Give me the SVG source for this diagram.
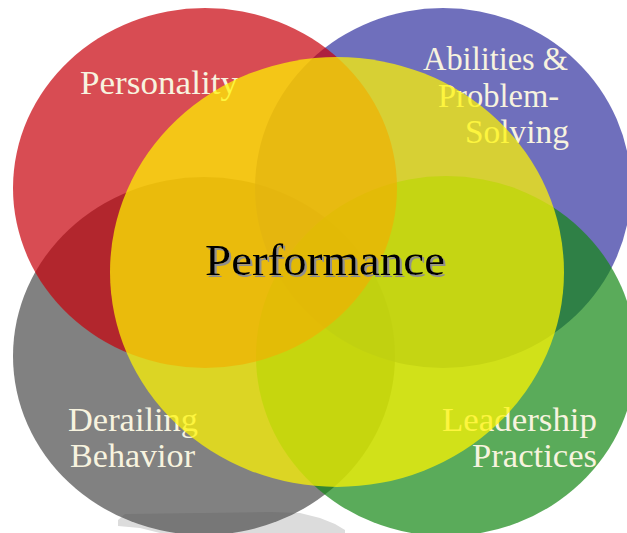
<svg xmlns="http://www.w3.org/2000/svg" width="627" height="533" viewBox="0 0 627 533">
  <style>
    .ring { stroke: none; }
    .label { font-family: "Liberation Serif", "Times New Roman", serif; font-size: 33px; fill: #f7f3df; }
    .core { font-family: "Liberation Serif", "Times New Roman", serif; font-size: 45px; fill: #000000; }
  </style>
  <defs>
    <filter id="drop" x="-10%" y="-30%" width="120%" height="160%">
      <feDropShadow dx="2" dy="2" stdDeviation="0.4" flood-color="#8f8f8f" flood-opacity="1"/>
    </filter>
  </defs>
  <rect width="627" height="533" fill="#ffffff"/>

  <!-- soft floor shadow under the lower-left circle -->
  <polygon points="118,520 125,514 270,512 300,513 320,518 335,524 345,530 345,533 160,533 140,528 118,526" fill="#dcdcdc"/>

  <g id="derailing-behavior">
    <ellipse class="ring" cx="204" cy="356" rx="191" ry="179" fill="#4b4b4b" fill-opacity="0.7"/>
  </g>
  <g id="abilities-problem-solving">
    <ellipse class="ring" cx="443" cy="188" rx="188" ry="180" fill="#3232a0" fill-opacity="0.7"/>
  </g>
  <g id="leadership-practices">
    <ellipse class="ring" cx="446" cy="356" rx="190" ry="180" fill="#148714" fill-opacity="0.7"/>
  </g>
  <g id="personality">
    <ellipse class="ring" cx="205" cy="188" rx="192" ry="180" fill="#c8000a" fill-opacity="0.7"/>
  </g>

  <!-- outer labels sit beneath the translucent centre circle -->
  <g id="labels">
    <text class="label" x="80" y="94" textLength="158" lengthAdjust="spacingAndGlyphs">Personality</text>
    <text class="label" x="423" y="70" textLength="145" lengthAdjust="spacingAndGlyphs">Abilities &amp;</text>
    <text class="label" x="438" y="107" textLength="121" lengthAdjust="spacingAndGlyphs">Problem-</text>
    <text class="label" x="465" y="143" textLength="104" lengthAdjust="spacingAndGlyphs">Solving</text>
    <text class="label" x="68" y="431" textLength="130" lengthAdjust="spacingAndGlyphs">Derailing</text>
    <text class="label" x="70" y="467" textLength="125" lengthAdjust="spacingAndGlyphs">Behavior</text>
    <text class="label" x="442" y="431" textLength="155" lengthAdjust="spacingAndGlyphs">Leadership</text>
    <text class="label" x="472" y="467" textLength="125" lengthAdjust="spacingAndGlyphs">Practices</text>
  </g>

  <g id="performance">
    <ellipse class="ring" cx="337" cy="272" rx="227" ry="215" fill="#fff500" fill-opacity="0.72"/>
    <text class="core" x="205" y="275" textLength="240" lengthAdjust="spacingAndGlyphs" filter="url(#drop)">Performance</text>
  </g>
</svg>
